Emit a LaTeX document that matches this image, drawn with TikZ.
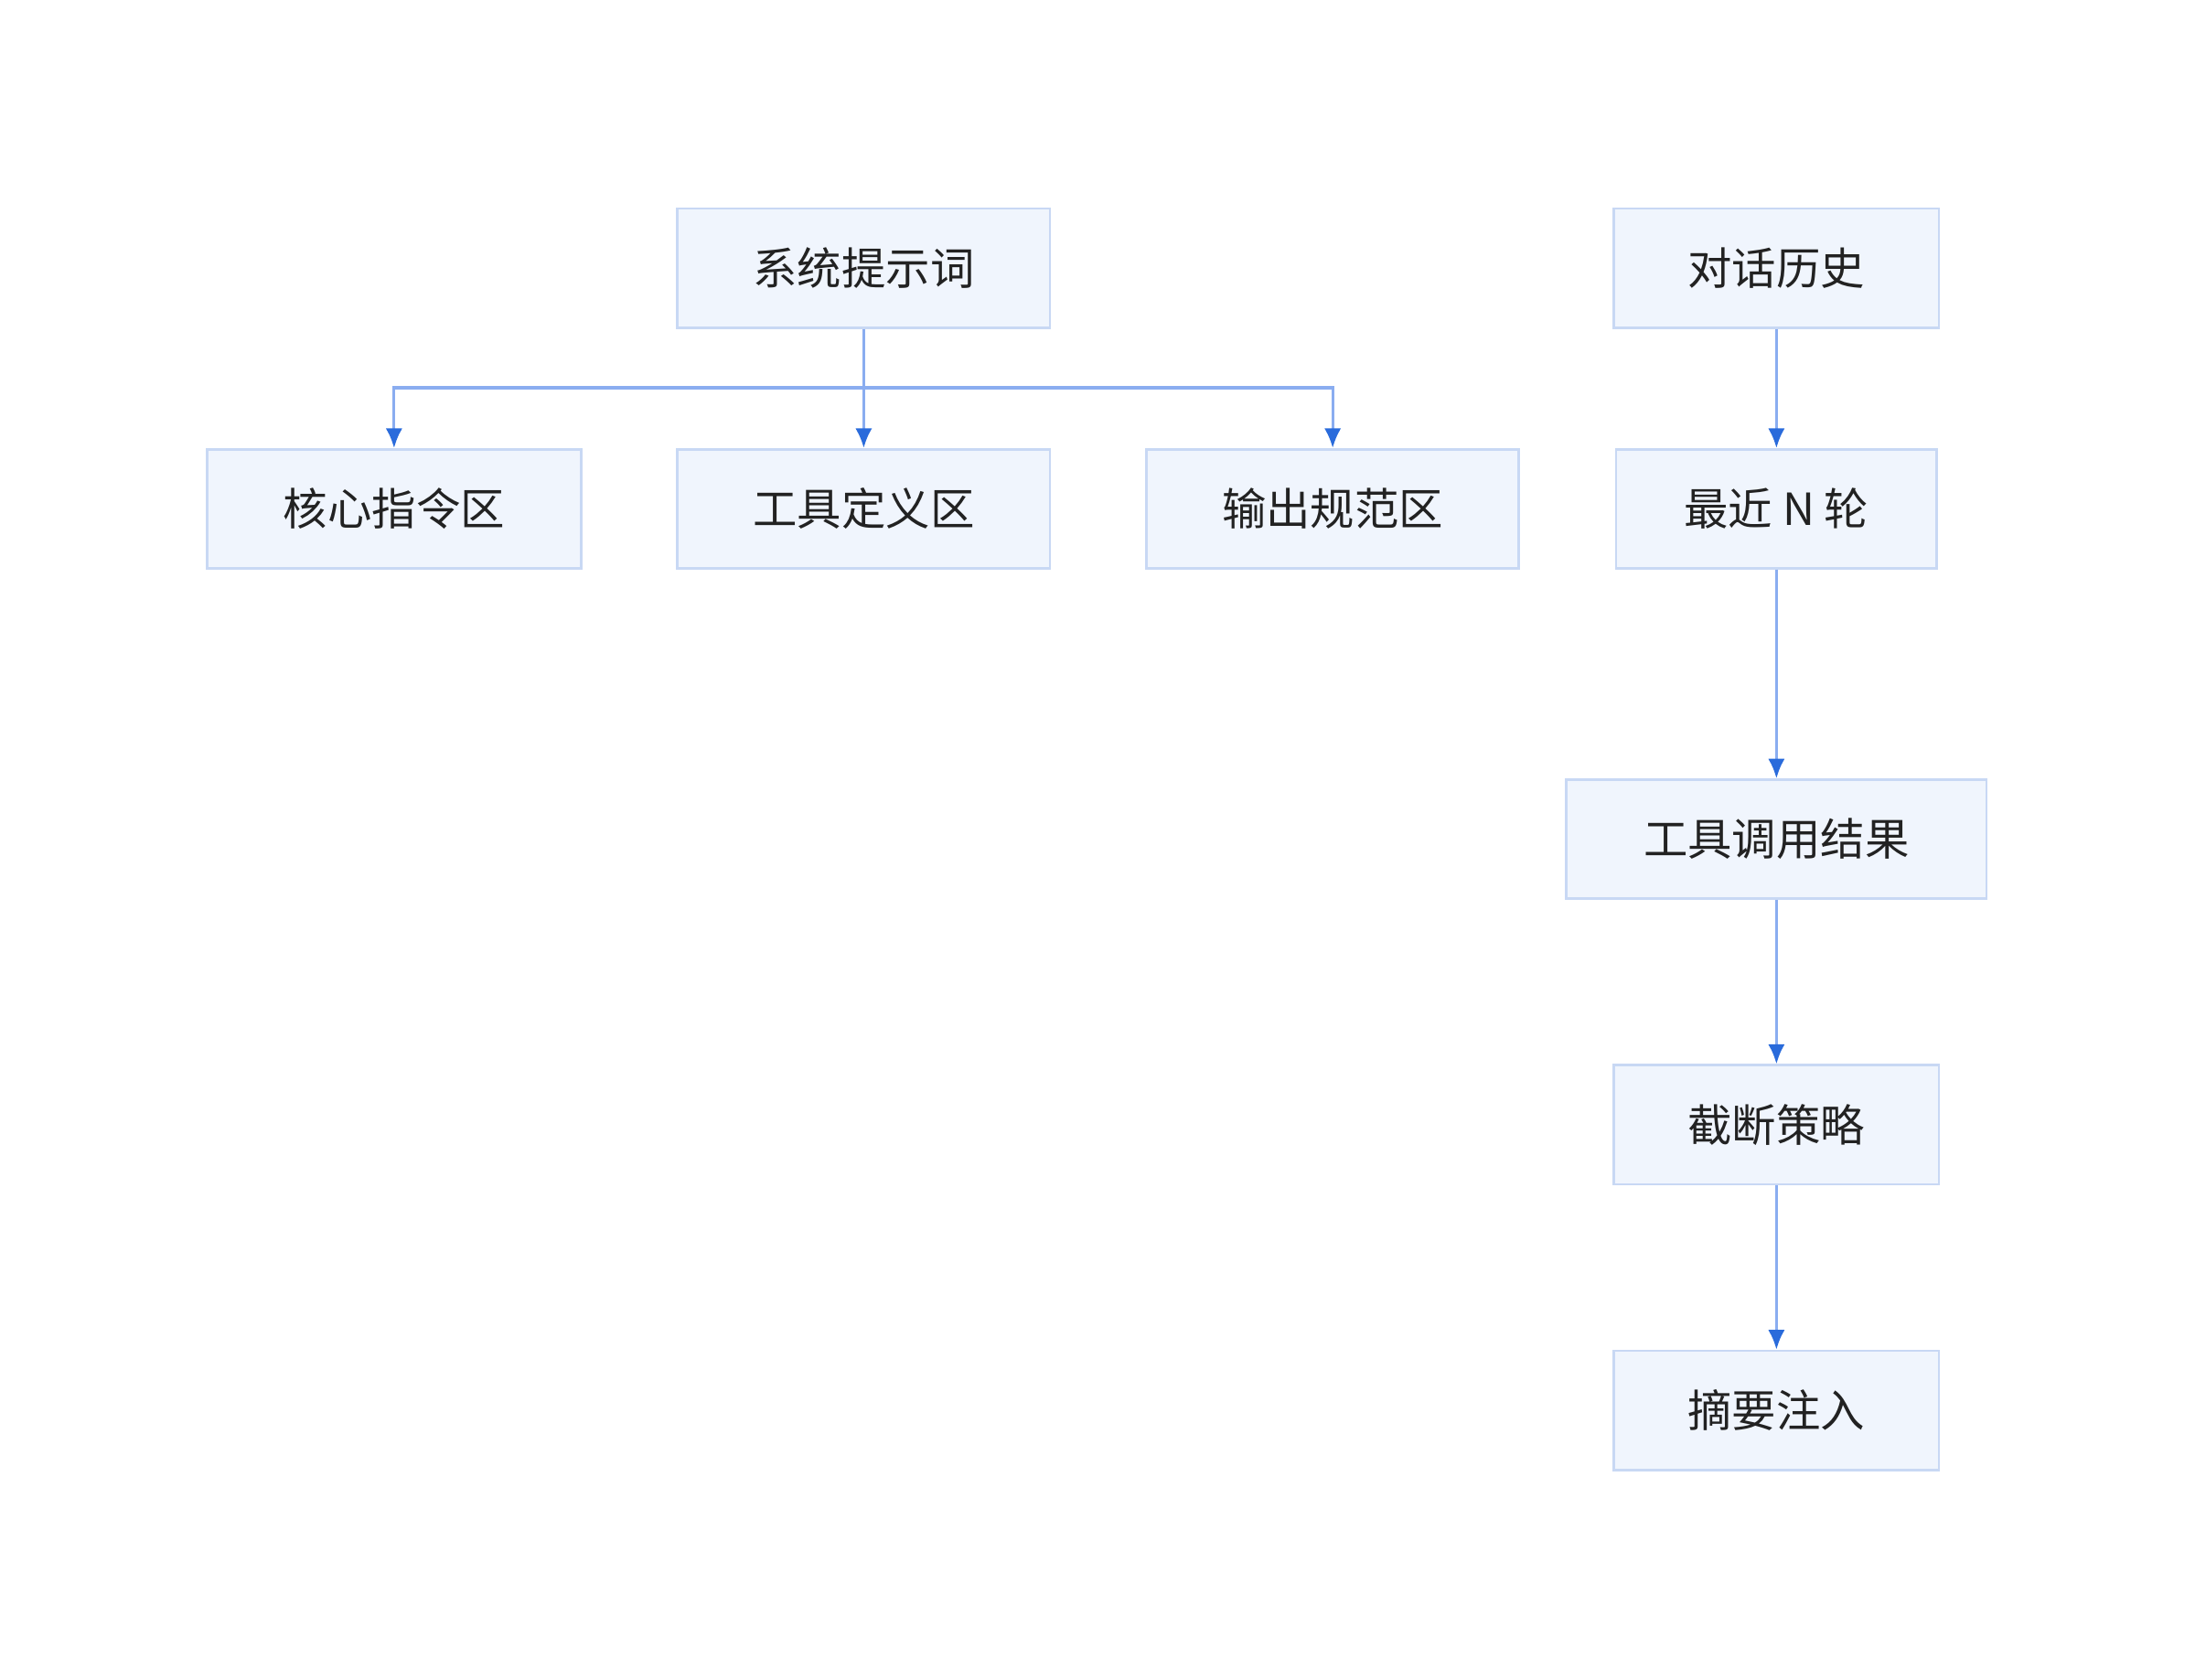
\documentclass[tikz,border=0pt]{standalone}
\usepackage{fontspec}
\setmainfont{Noto Sans CJK SC}
\usetikzlibrary{arrows.meta}
\definecolor{boxfill}{HTML}{F0F5FD}
\definecolor{boxline}{HTML}{C8D8F4}
\definecolor{linkline}{HTML}{8AADF0}
\definecolor{tipcol}{HTML}{2A6BDB}
\definecolor{txtcol}{HTML}{222222}
\tikzset{
  box/.style={draw=boxline, fill=boxfill, line width=0.5pt, minimum height=0.85cm,
    inner sep=0pt, text=txtcol, font=\fontsize{9pt}{10pt}\selectfont},
  link/.style={draw=linkline, line width=0.6pt,
    -{Latex[length=4pt,width=3.4pt,color=tipcol]}}
}
\begin{document}
\begin{tikzpicture}
\useasboundingbox (0,0) rectangle (15.68,-12.0);
% left group
\node [box, minimum width=2.66cm] (sys) at (6.17,-1.915) {系统提示词};
\node [box, minimum width=2.67cm] (core) at (2.815,-3.635) {核心指令区};
\node [box, minimum width=2.66cm] (tool) at (6.17,-3.635) {工具定义区};
\node [box, minimum width=2.66cm] (outp) at (9.52,-3.635) {输出规范区};
\coordinate (fork) at (6.17,-2.77);
\draw [link] (sys.south) -- (fork) -| (core.north);
\draw [link] (fork) -- (tool.north);
\draw [link] (fork) -| (outp.north);
% right chain
\node [box, minimum width=2.32cm] (hist) at (12.69,-1.915) {对话历史};
\node [box, minimum width=2.29cm] (recent) at (12.69,-3.635) {最近 N 轮};
\node [box, minimum width=3.00cm] (result) at (12.69,-5.995) {工具调用结果};
\node [box, minimum width=2.32cm] (trunc) at (12.69,-8.035) {截断策略};
\node [box, minimum width=2.32cm] (summ) at (12.69,-10.075) {摘要注入};
\draw [link] (hist) -- (recent);
\draw [link] (recent) -- (result);
\draw [link] (result) -- (trunc);
\draw [link] (trunc) -- (summ);
\end{tikzpicture}
\end{document}
